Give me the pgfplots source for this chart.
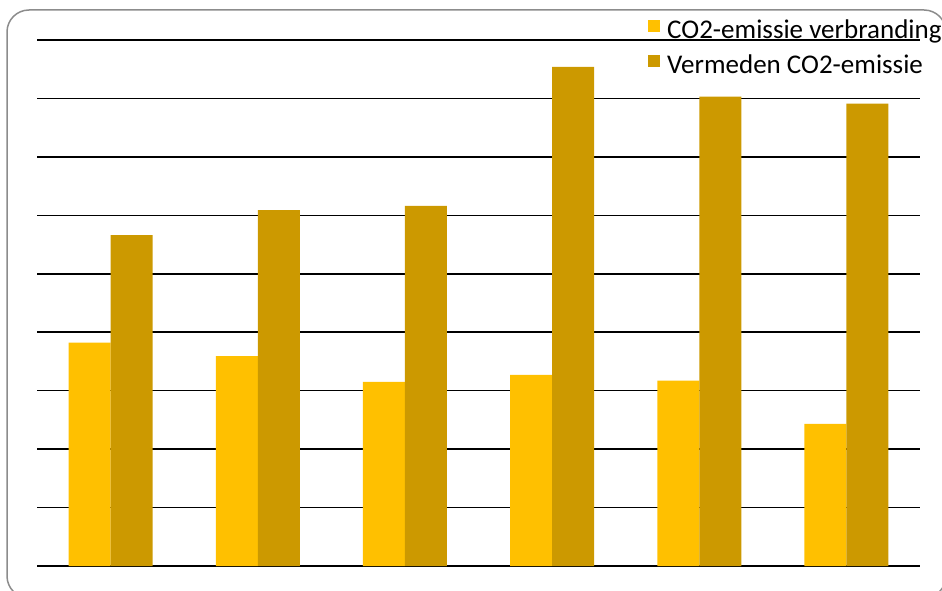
\documentclass[border=0pt]{standalone}
\usepackage{pgfplots}
\pgfplotsset{compat=1.18}
\usepackage{fontspec}
\setmainfont{Carlito}
\definecolor{verbranding}{HTML}{FFC000}
\definecolor{vermeden}{HTML}{CC9900}

\begin{document}
\begin{tikzpicture}[x=1pt,y=1pt]
\useasboundingbox (0,0) rectangle (942,590);
% rounded frame, partly cut off at the right and bottom
\draw[black!45, line width=1.5pt, rounded corners=22pt] (7,-8) rectangle (946,580);
\begin{axis}[
    at={(37pt,24pt)}, anchor=south west,
    scale only axis, width=883pt, height=526pt,
    ymin=0, ymax=9, ytick={0,...,9}, yticklabels={},
    xmin=-0.5, xmax=5.5, xtick=\empty,
    ymajorgrids=true,
    grid style={black, line width=1.6pt},
    axis line style={draw=none},
    tick style={draw=none},
    ybar=0pt, bar width=42pt,
    legend style={
        at={(0.692,1.042)}, anchor=north west,
        draw=none, fill=none, inner sep=0pt,
        font=\fontsize{27}{32}\selectfont,
        row sep=9pt,
        nodes={inner sep=0pt, text height=20pt, text depth=6pt},
        /tikz/every odd column/.append style={column sep=7pt},
    },
    legend cell align=left,
    legend image code/.code={\fill[#1] (0pt,-1pt) rectangle (12pt,11pt);},
]

% CO2-emissie verbranding
\addplot[fill=verbranding, draw=none] coordinates {
    (0,3.82) (1,3.59) (2,3.15) (3,3.27) (4,3.17) (5,2.43)
};
% Vermeden CO2-emissie
\addplot[fill=vermeden, draw=none] coordinates {
    (0,5.66) (1,6.09) (2,6.16) (3,8.54) (4,8.03) (5,7.91)
};
\legend{CO2-emissie verbranding, Vermeden CO2-emissie}

\end{axis}
\end{tikzpicture}
\end{document}
